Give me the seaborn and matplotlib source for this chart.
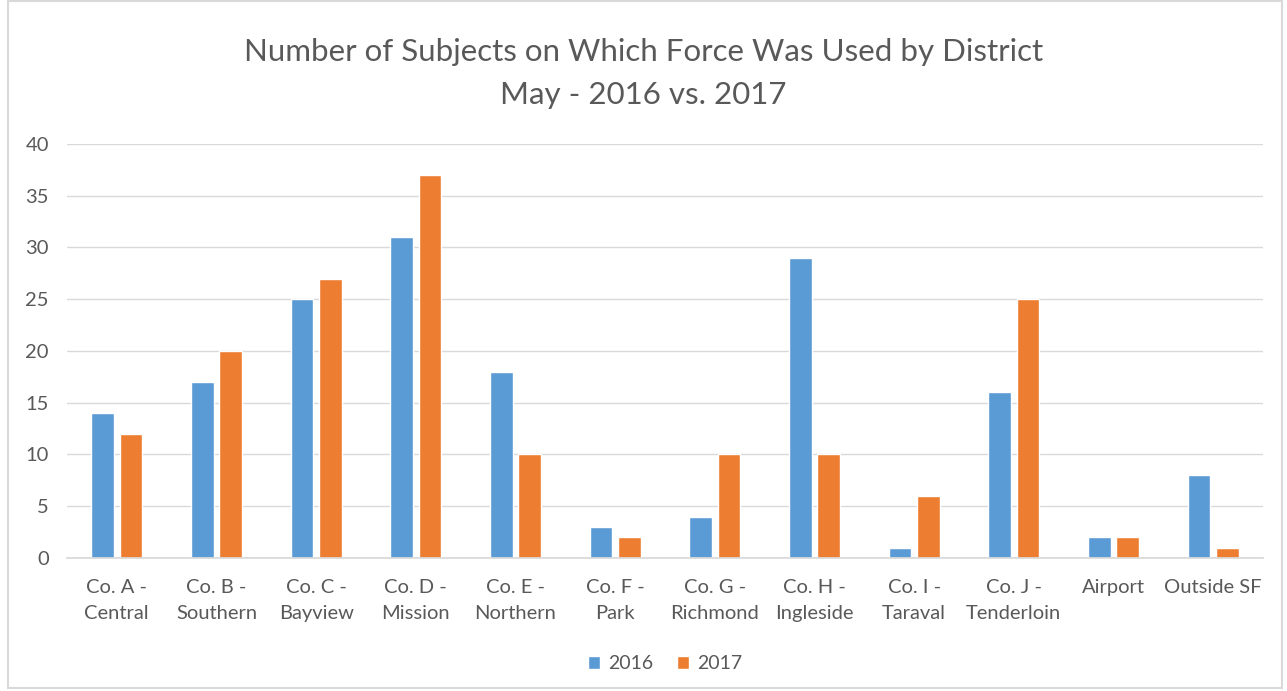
import pandas as pd
import matplotlib.pyplot as plt
import seaborn as sns
from matplotlib.patches import Rectangle

# Chart data
districts = [
    "Co. A -\nCentral", "Co. B -\nSouthern", "Co. C -\nBayview", "Co. D -\nMission",
    "Co. E -\nNorthern", "Co. F -\nPark", "Co. G -\nRichmond", "Co. H -\nIngleside",
    "Co. I -\nTaraval", "Co. J -\nTenderloin", "Airport", "Outside SF",
]
subjects_2016 = [14, 17, 25, 31, 18, 3, 4, 29, 1, 16, 2, 8]
subjects_2017 = [12, 20, 27, 37, 10, 2, 10, 10, 6, 25, 2, 1]
years = ["2016", "2017"]
y_ticks = [0, 5, 10, 15, 20, 25, 30, 35, 40]

df = pd.DataFrame({
    "District": districts * 2,
    "Year": [years[0]] * len(districts) + [years[1]] * len(districts),
    "Subjects": subjects_2016 + subjects_2017,
})

sns.set_theme(style="white")
plt.rcParams["font.family"] = ["Lato", "DejaVu Sans"]
text_color = "#595959"

fig = plt.figure(figsize=(12.87, 6.91), dpi=100)
ax = fig.add_axes([0.052, 0.1925, 0.9293, 0.5991])

sns.barplot(
    data=df, x="District", y="Subjects", hue="Year",
    palette=["#5b9bd5", "#ed7d31"], width=0.57, gap=0.2,
    saturation=1, ax=ax, legend=True,
)

ax.set_ylim(0, 40)
ax.set_xlim(-0.5, len(districts) - 0.5)
ax.set_yticks(y_ticks)
ax.yaxis.grid(True, color="#d9d9d9", linewidth=1)
ax.set_axisbelow(True)
for side in ["top", "right", "left"]:
    ax.spines[side].set_visible(False)
ax.spines["bottom"].set_color("#d9d9d9")
ax.tick_params(axis="both", length=0, labelsize=14.5, colors=text_color)
ax.tick_params(axis="x", pad=15)
ax.tick_params(axis="y", pad=13)
for lbl in ax.get_xticklabels():
    lbl.set_linespacing(1.65)
ax.set_xlabel("")
ax.set_ylabel("")

ax.legend(
    loc="center", bbox_to_anchor=(0.5, -0.255), ncol=2, frameon=False,
    fontsize=14, labelcolor=text_color, handlelength=0.65, handleheight=0.65,
    columnspacing=1.2, handletextpad=0.4,
)

fig.text(0.5, 0.925, "Number of Subjects on Which Force Was Used by District",
         ha="center", va="center", fontsize=22.5, color=text_color)
fig.text(0.5, 0.863, "May - 2016 vs. 2017",
         ha="center", va="center", fontsize=22.5, color=text_color)

# Chart border
fig.patches.append(Rectangle((0.006, 0.004), 0.99, 0.994, transform=fig.transFigure,
                             fill=False, edgecolor="#d9d9d9", linewidth=1.5))

fig.savefig("out.png", dpi=100)
